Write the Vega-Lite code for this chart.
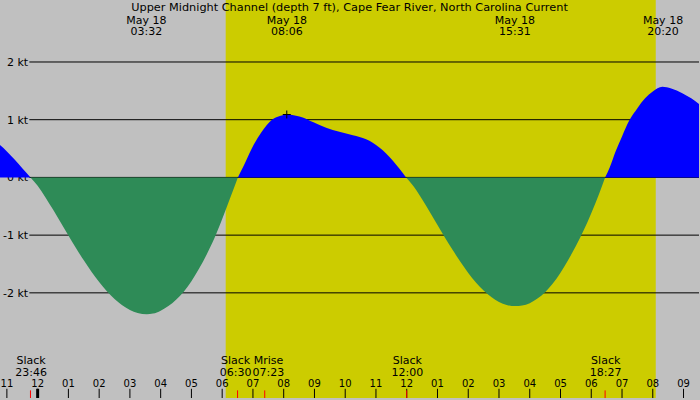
{
  "$schema": "https://vega.github.io/schema/vega-lite/v6.json",
  "width": 700,
  "height": 400,
  "autosize": {"type": "fit", "contains": "padding"},
  "padding": 0,
  "background": "#c0c0c0",
  "config": {
    "view": {"stroke": null, "fill": "#c0c0c0"},
    "text": {"font": "DejaVu Sans", "color": "black"}
  },
  "datasets": {
    "curve": [
      {"h": -1.224, "v": 0.56, "seg": "a", "dir": "flood"},
      {"h": -1.0, "v": 0.45, "seg": "a", "dir": "flood"},
      {"h": -0.75, "v": 0.31, "seg": "a", "dir": "flood"},
      {"h": -0.5, "v": 0.16, "seg": "a", "dir": "flood"},
      {"h": -0.233, "v": 0, "seg": "a", "dir": "flood"},
      {"h": -0.233, "v": 0, "seg": "b", "dir": "ebb"},
      {"h": 0.0, "v": -0.144, "seg": "b", "dir": "ebb"},
      {"h": 0.25, "v": -0.342, "seg": "b", "dir": "ebb"},
      {"h": 0.5, "v": -0.558, "seg": "b", "dir": "ebb"},
      {"h": 0.75, "v": -0.782, "seg": "b", "dir": "ebb"},
      {"h": 1.0, "v": -1.007, "seg": "b", "dir": "ebb"},
      {"h": 1.25, "v": -1.227, "seg": "b", "dir": "ebb"},
      {"h": 1.5, "v": -1.437, "seg": "b", "dir": "ebb"},
      {"h": 1.75, "v": -1.634, "seg": "b", "dir": "ebb"},
      {"h": 2.0, "v": -1.814, "seg": "b", "dir": "ebb"},
      {"h": 2.25, "v": -1.972, "seg": "b", "dir": "ebb"},
      {"h": 2.5, "v": -2.106, "seg": "b", "dir": "ebb"},
      {"h": 2.75, "v": -2.216, "seg": "b", "dir": "ebb"},
      {"h": 3.0, "v": -2.296, "seg": "b", "dir": "ebb"},
      {"h": 3.25, "v": -2.348, "seg": "b", "dir": "ebb"},
      {"h": 3.55, "v": -2.37, "seg": "b", "dir": "ebb"},
      {"h": 3.75, "v": -2.36, "seg": "b", "dir": "ebb"},
      {"h": 4.0, "v": -2.31, "seg": "b", "dir": "ebb"},
      {"h": 4.25, "v": -2.23, "seg": "b", "dir": "ebb"},
      {"h": 4.5, "v": -2.12, "seg": "b", "dir": "ebb"},
      {"h": 4.75, "v": -1.98, "seg": "b", "dir": "ebb"},
      {"h": 5.0, "v": -1.8, "seg": "b", "dir": "ebb"},
      {"h": 5.25, "v": -1.58, "seg": "b", "dir": "ebb"},
      {"h": 5.5, "v": -1.33, "seg": "b", "dir": "ebb"},
      {"h": 5.75, "v": -1.05, "seg": "b", "dir": "ebb"},
      {"h": 6.0, "v": -0.72, "seg": "b", "dir": "ebb"},
      {"h": 6.25, "v": -0.37, "seg": "b", "dir": "ebb"},
      {"h": 6.51, "v": 0, "seg": "b", "dir": "ebb"},
      {"h": 6.51, "v": 0, "seg": "c", "dir": "flood"},
      {"h": 6.7, "v": 0.2, "seg": "c", "dir": "flood"},
      {"h": 6.95, "v": 0.49, "seg": "c", "dir": "flood"},
      {"h": 7.27, "v": 0.78, "seg": "c", "dir": "flood"},
      {"h": 7.62, "v": 1.0, "seg": "c", "dir": "flood"},
      {"h": 7.9, "v": 1.07, "seg": "c", "dir": "flood"},
      {"h": 8.16, "v": 1.09, "seg": "c", "dir": "flood"},
      {"h": 8.4, "v": 1.07, "seg": "c", "dir": "flood"},
      {"h": 8.62, "v": 1.04, "seg": "c", "dir": "flood"},
      {"h": 8.95, "v": 0.96, "seg": "c", "dir": "flood"},
      {"h": 9.38, "v": 0.86, "seg": "c", "dir": "flood"},
      {"h": 9.81, "v": 0.79, "seg": "c", "dir": "flood"},
      {"h": 10.25, "v": 0.73, "seg": "c", "dir": "flood"},
      {"h": 10.68, "v": 0.66, "seg": "c", "dir": "flood"},
      {"h": 11.11, "v": 0.52, "seg": "c", "dir": "flood"},
      {"h": 11.55, "v": 0.29, "seg": "c", "dir": "flood"},
      {"h": 11.98, "v": 0, "seg": "c", "dir": "flood"},
      {"h": 11.98, "v": 0, "seg": "d", "dir": "ebb"},
      {"h": 12.25, "v": -0.174, "seg": "d", "dir": "ebb"},
      {"h": 12.5, "v": -0.379, "seg": "d", "dir": "ebb"},
      {"h": 12.75, "v": -0.599, "seg": "d", "dir": "ebb"},
      {"h": 13.0, "v": -0.824, "seg": "d", "dir": "ebb"},
      {"h": 13.25, "v": -1.048, "seg": "d", "dir": "ebb"},
      {"h": 13.5, "v": -1.264, "seg": "d", "dir": "ebb"},
      {"h": 13.75, "v": -1.466, "seg": "d", "dir": "ebb"},
      {"h": 14.0, "v": -1.654, "seg": "d", "dir": "ebb"},
      {"h": 14.25, "v": -1.82, "seg": "d", "dir": "ebb"},
      {"h": 14.5, "v": -1.96, "seg": "d", "dir": "ebb"},
      {"h": 14.75, "v": -2.073, "seg": "d", "dir": "ebb"},
      {"h": 15.0, "v": -2.157, "seg": "d", "dir": "ebb"},
      {"h": 15.25, "v": -2.209, "seg": "d", "dir": "ebb"},
      {"h": 15.53, "v": -2.23, "seg": "d", "dir": "ebb"},
      {"h": 15.75, "v": -2.22, "seg": "d", "dir": "ebb"},
      {"h": 16.0, "v": -2.18, "seg": "d", "dir": "ebb"},
      {"h": 16.25, "v": -2.1, "seg": "d", "dir": "ebb"},
      {"h": 16.5, "v": -1.99, "seg": "d", "dir": "ebb"},
      {"h": 16.75, "v": -1.84, "seg": "d", "dir": "ebb"},
      {"h": 17.0, "v": -1.65, "seg": "d", "dir": "ebb"},
      {"h": 17.25, "v": -1.43, "seg": "d", "dir": "ebb"},
      {"h": 17.5, "v": -1.19, "seg": "d", "dir": "ebb"},
      {"h": 17.75, "v": -0.92, "seg": "d", "dir": "ebb"},
      {"h": 18.0, "v": -0.62, "seg": "d", "dir": "ebb"},
      {"h": 18.25, "v": -0.29, "seg": "d", "dir": "ebb"},
      {"h": 18.45, "v": 0, "seg": "d", "dir": "ebb"},
      {"h": 18.45, "v": 0, "seg": "e", "dir": "flood"},
      {"h": 18.6, "v": 0.17, "seg": "e", "dir": "flood"},
      {"h": 18.8, "v": 0.46, "seg": "e", "dir": "flood"},
      {"h": 19.0, "v": 0.71, "seg": "e", "dir": "flood"},
      {"h": 19.23, "v": 0.98, "seg": "e", "dir": "flood"},
      {"h": 19.5, "v": 1.2, "seg": "e", "dir": "flood"},
      {"h": 19.75, "v": 1.37, "seg": "e", "dir": "flood"},
      {"h": 20.0, "v": 1.49, "seg": "e", "dir": "flood"},
      {"h": 20.31, "v": 1.57, "seg": "e", "dir": "flood"},
      {"h": 20.6, "v": 1.54, "seg": "e", "dir": "flood"},
      {"h": 20.96, "v": 1.46, "seg": "e", "dir": "flood"},
      {"h": 21.25, "v": 1.37, "seg": "e", "dir": "flood"},
      {"h": 21.503, "v": 1.27, "seg": "e", "dir": "flood"}
    ],
    "grid": [
      {"v": 2, "label": "2 kt"},
      {"v": 1, "label": "1 kt"},
      {"v": 0, "label": "0 kt"},
      {"v": -1, "label": "-1 kt"},
      {"v": -2, "label": "-2 kt"}
    ],
    "hours": [
      {"h": -1, "label": "11"}, {"h": 0, "label": "12"}, {"h": 1, "label": "01"},
      {"h": 2, "label": "02"}, {"h": 3, "label": "03"}, {"h": 4, "label": "04"},
      {"h": 5, "label": "05"}, {"h": 6, "label": "06"}, {"h": 7, "label": "07"},
      {"h": 8, "label": "08"}, {"h": 9, "label": "09"}, {"h": 10, "label": "10"},
      {"h": 11, "label": "11"}, {"h": 12, "label": "12"}, {"h": 13, "label": "01"},
      {"h": 14, "label": "02"}, {"h": 15, "label": "03"}, {"h": 16, "label": "04"},
      {"h": 17, "label": "05"}, {"h": 18, "label": "06"}, {"h": 19, "label": "07"},
      {"h": 20, "label": "08"}, {"h": 21, "label": "09"}
    ],
    "events": [
      {"h": -0.233, "name": "Slack", "time": "23:46"},
      {"h": 6.5, "name": "Slack", "time": "06:30"},
      {"h": 7.383, "name": "Mrise", "time": "07:23"},
      {"h": 12.0, "name": "Slack", "time": "12:00"},
      {"h": 18.45, "name": "Slack", "time": "18:27"}
    ],
    "peaks": [
      {"h": 3.533, "day": "May 18", "time": "03:32"},
      {"h": 8.1, "day": "May 18", "time": "08:06"},
      {"h": 15.517, "day": "May 18", "time": "15:31"},
      {"h": 20.333, "day": "May 18", "time": "20:20"}
    ],
    "daylight": [{"start": 6.114, "end": 20.097}]
  },
  "layer": [
    {
      "data": {"name": "daylight"},
      "mark": {"type": "rect", "color": "#cccc00"},
      "encoding": {
        "x": {"field": "start", "type": "quantitative", "scale": {"domain": [-1.224, 21.503], "nice": false, "zero": false}, "axis": null},
        "x2": {"field": "end"}
      }
    },
    {
      "data": {"name": "grid"},
      "mark": {"type": "rule", "color": "black", "strokeWidth": 1},
      "encoding": {
        "x": {"datum": -0.27, "type": "quantitative", "axis": null},
        "x2": {"datum": 21.503},
        "y": {"field": "v", "type": "quantitative", "scale": {"domain": [-3.822, 3.074], "nice": false, "zero": false}, "axis": null}
      }
    },
    {
      "data": {"name": "grid"},
      "mark": {"type": "text", "align": "right", "baseline": "alphabetic", "dy": 3.8, "fontSize": 11},
      "encoding": {
        "x": {"datum": -0.31, "type": "quantitative"},
        "y": {"field": "v", "type": "quantitative"},
        "text": {"field": "label"}
      }
    },
    {
      "data": {"name": "curve"},
      "mark": {"type": "area", "interpolate": "monotone", "opacity": 1},
      "encoding": {
        "x": {"field": "h", "type": "quantitative"},
        "y": {"field": "v", "type": "quantitative", "stack": null},
        "y2": {"datum": 0},
        "color": {"field": "dir", "type": "nominal", "scale": {"domain": ["flood", "ebb"], "range": ["#0000ff", "#2e8b57"]}, "legend": null},
        "detail": {"field": "seg"}
      }
    },
    {
      "data": {"values": [{"h": 8.1, "v": 1.09}]},
      "mark": {"type": "point", "shape": "M-1,0L1,0M0,-1L0,1", "size": 64, "stroke": "black", "strokeWidth": 1, "filled": false, "opacity": 1},
      "encoding": {
        "x": {"field": "h", "type": "quantitative"},
        "y": {"field": "v", "type": "quantitative"}
      }
    },
    {
      "data": {"name": "hours"},
      "mark": {"type": "rule", "color": "black", "strokeWidth": 1},
      "encoding": {
        "x": {"field": "h", "type": "quantitative"},
        "y": {"datum": -3.662, "type": "quantitative"},
        "y2": {"datum": -3.822}
      }
    },
    {
      "data": {"values": [{"h": 0}]},
      "mark": {"type": "rule", "color": "black", "strokeWidth": 3},
      "encoding": {
        "x": {"field": "h", "type": "quantitative"},
        "y": {"datum": -3.662, "type": "quantitative"},
        "y2": {"datum": -3.822}
      }
    },
    {
      "data": {"name": "hours"},
      "mark": {"type": "text", "align": "center", "baseline": "alphabetic", "fontSize": 10},
      "encoding": {
        "x": {"field": "h", "type": "quantitative"},
        "y": {"datum": -3.64, "type": "quantitative"},
        "text": {"field": "label"}
      }
    },
    {
      "data": {"name": "events"},
      "mark": {"type": "rule", "color": "#ff0000", "strokeWidth": 1},
      "encoding": {
        "x": {"field": "h", "type": "quantitative"},
        "y": {"datum": -3.69, "type": "quantitative"},
        "y2": {"datum": -3.822}
      }
    },
    {
      "data": {"name": "events"},
      "transform": [{"filter": "datum.name == 'Slack' && datum.time != '06:30'"}],
      "layer": [
        {
          "mark": {"type": "text", "align": "center", "baseline": "alphabetic", "fontSize": 11, "dx": 0.6},
          "encoding": {
            "x": {"field": "h", "type": "quantitative"},
            "y": {"datum": -3.241, "type": "quantitative"},
            "text": {"field": "name"}
          }
        },
        {
          "mark": {"type": "text", "align": "center", "baseline": "alphabetic", "fontSize": 11, "dx": 0.6},
          "encoding": {
            "x": {"field": "h", "type": "quantitative"},
            "y": {"datum": -3.44, "type": "quantitative"},
            "text": {"field": "time"}
          }
        }
      ]
    },
    {
      "data": {"name": "events"},
      "transform": [{"filter": "datum.time == '06:30'"}],
      "layer": [
        {
          "mark": {"type": "text", "align": "center", "baseline": "alphabetic", "fontSize": 11, "dx": -2},
          "encoding": {
            "x": {"field": "h", "type": "quantitative"},
            "y": {"datum": -3.241, "type": "quantitative"},
            "text": {"field": "name"}
          }
        },
        {
          "mark": {"type": "text", "align": "center", "baseline": "alphabetic", "fontSize": 11, "dx": -2},
          "encoding": {
            "x": {"field": "h", "type": "quantitative"},
            "y": {"datum": -3.44, "type": "quantitative"},
            "text": {"field": "time"}
          }
        }
      ]
    },
    {
      "data": {"name": "events"},
      "transform": [{"filter": "datum.name == 'Mrise'"}],
      "layer": [
        {
          "mark": {"type": "text", "align": "center", "baseline": "alphabetic", "fontSize": 11, "dx": 3.7},
          "encoding": {
            "x": {"field": "h", "type": "quantitative"},
            "y": {"datum": -3.241, "type": "quantitative"},
            "text": {"field": "name"}
          }
        },
        {
          "mark": {"type": "text", "align": "center", "baseline": "alphabetic", "fontSize": 11, "dx": 3.7},
          "encoding": {
            "x": {"field": "h", "type": "quantitative"},
            "y": {"datum": -3.44, "type": "quantitative"},
            "text": {"field": "time"}
          }
        }
      ]
    },
    {
      "data": {"name": "peaks"},
      "layer": [
        {
          "mark": {"type": "text", "align": "center", "baseline": "alphabetic", "fontSize": 11},
          "encoding": {
            "x": {"field": "h", "type": "quantitative"},
            "y": {"datum": 2.665, "type": "quantitative"},
            "text": {"field": "day"}
          }
        },
        {
          "mark": {"type": "text", "align": "center", "baseline": "alphabetic", "fontSize": 11},
          "encoding": {
            "x": {"field": "h", "type": "quantitative"},
            "y": {"datum": 2.466, "type": "quantitative"},
            "text": {"field": "time"}
          }
        }
      ]
    },
    {
      "data": {"values": [{"title": "Upper Midnight Channel (depth 7 ft), Cape Fear River, North Carolina Current"}]},
      "mark": {"type": "text", "align": "center", "baseline": "alphabetic", "fontSize": 11.3},
      "encoding": {
        "x": {"datum": 10.14, "type": "quantitative"},
        "y": {"datum": 2.884, "type": "quantitative"},
        "text": {"field": "title"}
      }
    }
  ]
}
